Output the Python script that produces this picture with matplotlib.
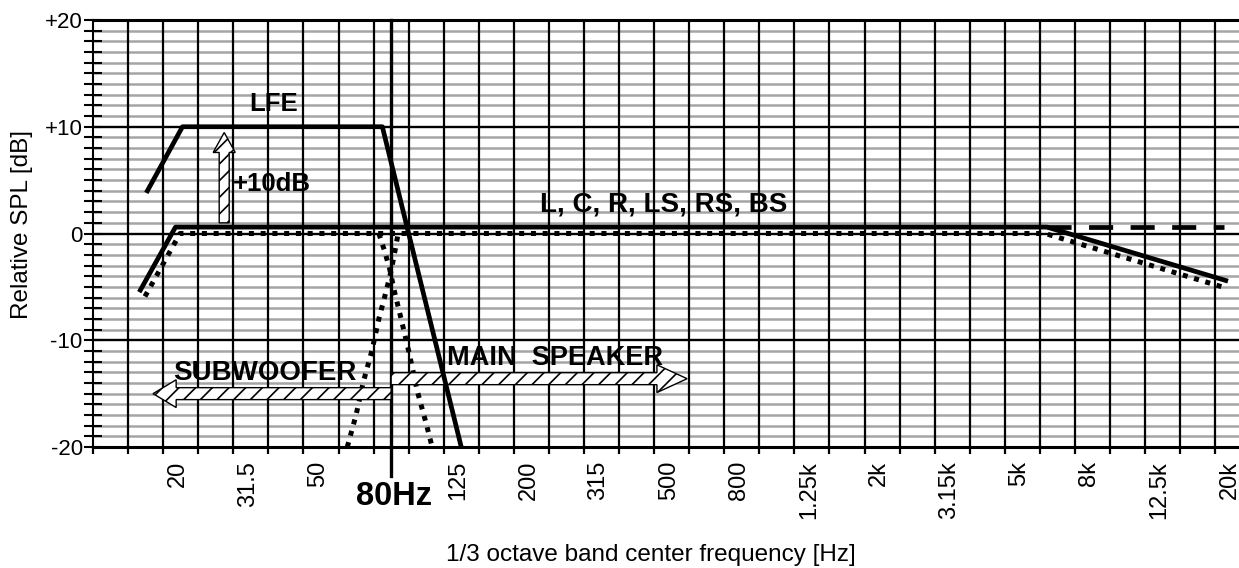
import numpy as np
import matplotlib.pyplot as plt
from matplotlib.patches import FancyArrow
from matplotlib.transforms import ScaledTranslation

plt.rcParams['font.family'] = ['Liberation Sans', 'DejaVu Sans']
plt.rcParams['hatch.linewidth'] = 1.2

# 1/3 octave bands 12.5 Hz .. 20 kHz, one grid cell per band
bands = ['12.5', '16', '20', '25', '31.5', '40', '50', '63', '80', '100',
         '125', '160', '200', '250', '315', '400', '500', '630', '800', '1k',
         '1.25k', '1.6k', '2k', '2.5k', '3.15k', '4k', '5k', '6.3k', '8k',
         '10k', '12.5k', '16k', '20k']
labeled = ['20', '31.5', '50', '125', '200', '315', '500', '800', '1.25k',
           '2k', '3.15k', '5k', '8k', '12.5k', '20k']
crossover = '80'

y_ticks = [-20, -10, 0, 10, 20]
y_ticklabels = ['-20', '-10', '0', '+10', '+20']

# curves: x = band index, y = dB
lfe_x = [1.05, 2.05, 7.75, 10.0]
lfe_db = [4.0, 10.0, 10.0, -20.0]

main_x = [0.85, 1.85, 26.7, 31.8]
main_db = [-5.3, 0.6, 0.6, -4.4]

flat_x = [26.7, 31.75]
flat_db = [0.6, 0.6]

target_x = [0.98, 1.98, 26.65, 31.7]
target_db = [-5.9, 0.0, 0.0, -5.0]

hpf_x = [6.75, 7.0, 7.2, 7.45, 7.65, 7.85, 8.0, 8.1, 8.2]
hpf_db = [-20, -17, -14, -11, -8, -5.5, -3.5, -1.8, 0]

lpf_x = [7.65, 7.8, 7.95, 8.1, 8.3, 8.5, 8.75, 9.0, 9.17]
lpf_db = [0, -1.5, -3.2, -5.5, -8.2, -11, -14.8, -17.8, -20]

fig = plt.figure(figsize=(12.39, 5.68), dpi=100)
ax = fig.add_axes([0.0751, 0.213, 0.934, 0.7518])
nb = len(bands)
ax.set_xlim(-0.5, nb - 0.5)
ax.set_ylim(-20, 20)

# grid
ax.hlines([v for v in range(-19, 20) if v % 10], -0.5, nb - 0.5,
          color='#a5a5a5', lw=1.8, zorder=1)
ax.vlines(np.arange(0.5, nb - 0.5), -20, 20, color='black', lw=1.6, zorder=1.5)
ax.hlines([-10, 0, 10], -0.5, nb - 0.5, color='black', lw=1.7, zorder=1.6)

xc = bands.index(crossover)
ax.plot([xc, xc], [20, -22.7], color='black', lw=2.4, clip_on=False, zorder=2)

dot = dict(color='black', lw=3.6, linestyle=(0, (1.0, 1.35)),
           dash_capstyle='butt', zorder=3)
ax.plot(target_x, target_db, **dot)
ax.plot(hpf_x, hpf_db, **dot)
ax.plot(lpf_x, lpf_db, **dot)

ax.plot(main_x, main_db, color='black', lw=3.4, zorder=4)
ax.plot(flat_x, flat_db, color='black', lw=3.4, linestyle=(0, (5.1, 3.7)),
        dash_capstyle='butt', zorder=4)

arrow = dict(length_includes_head=True, facecolor='white', edgecolor='black',
             hatch='//', lw=1.0, zorder=5)
ax.add_patch(FancyArrow(3.24, 1.0, 0, 8.46, width=0.285, head_width=0.63,
                        head_length=1.87, **arrow))
ax.add_patch(FancyArrow(xc, -15.0, 1.21 - xc, 0, width=1.12, head_width=2.6,
                        head_length=0.66, **arrow))
ax.add_patch(FancyArrow(xc, -13.6, 16.44 - xc, 0, width=1.12, head_width=2.6,
                        head_length=0.86, **arrow))

ax.plot(lfe_x, lfe_db, color='black', lw=3.4, zorder=6)

bold = dict(fontweight='bold', va='baseline', zorder=7)
ax.text(4.66, 11.5, 'LFE', ha='center', fontsize=18.5, **bold)
ax.text(3.49, 4.0, '+10dB', ha='left', fontsize=18.5, **bold)
ax.text(12.25, 2.06, 'L, C, R, LS, RS, BS', ha='left', fontsize=20, **bold)
ax.text(1.78, -13.7, 'SUBWOOFER', ha='left', fontsize=20, **bold)
ax.text(9.6, -12.36, 'MAIN  SPEAKER', ha='left', fontsize=19.5, **bold)
ax.text(xc + 0.08, -25.4, crossover + 'Hz', ha='center', fontsize=23.5,
        clip_on=False, **bold)

# ticks
ax.set_xticks(np.arange(-0.5, nb), labels=[])
ax.tick_params(axis='x', which='major', direction='out', length=5, width=1.6)
ax.set_xticks([bands.index(b) for b in labeled], labels=labeled, minor=True,
              rotation=90, fontsize=17)
ax.tick_params(axis='x', which='minor', length=0, pad=10)
shift = ScaledTranslation(-3 / 100, 0, fig.dpi_scale_trans)
for lbl in ax.get_xticklabels(minor=True):
    lbl.set_transform(lbl.get_transform() + shift)

ax.set_yticks(y_ticks, labels=y_ticklabels, fontsize=16)
ax.set_yticks(np.arange(-20, 21, 1), minor=True)
ax.tick_params(axis='y', which='both', direction='inout', length=13,
               width=1.5, pad=1)

for side, w in [('top', 2.2), ('bottom', 2.2), ('left', 1.5), ('right', 2.2)]:
    ax.spines[side].set_linewidth(w)
    ax.spines[side].set_zorder(8)

ax.set_ylabel('Relative SPL [dB]', fontsize=17.5)
ax.yaxis.set_label_coords(-0.052, 0.52)
ax.set_xlabel('1/3 octave band center frequency [Hz]', fontsize=17.5)
ax.xaxis.set_label_coords(0.482, -0.228)

fig.savefig('out.png', dpi=100)
